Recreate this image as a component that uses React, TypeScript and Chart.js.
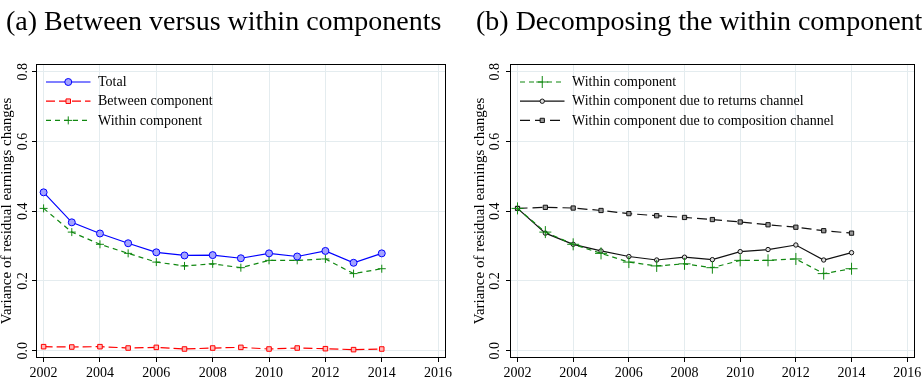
import React, { useEffect, useRef } from "react";
import { Chart, registerables } from "chart.js";
import { drawPoint } from "chart.js/helpers";

Chart.register(...registerables);

const FONT = "'Liberation Serif', 'Times New Roman', Times, serif";

// ---- data ----
const years = [2002, 2003, 2004, 2005, 2006, 2007, 2008, 2009, 2010, 2011, 2012, 2013, 2014];
const totalValues = [0.454, 0.368, 0.336, 0.308, 0.282, 0.273, 0.274, 0.265, 0.279, 0.27, 0.286, 0.252, 0.279];
const betweenValues = [0.0115, 0.0105, 0.0115, 0.0076, 0.0095, 0.0048, 0.0076, 0.0095, 0.0048, 0.0076, 0.0057, 0.003, 0.0048];
const withinValues = [0.408, 0.34, 0.305, 0.279, 0.254, 0.243, 0.249, 0.238, 0.259, 0.259, 0.263, 0.221, 0.235];
const returnsValues = [0.408, 0.337, 0.305, 0.286, 0.27, 0.26, 0.268, 0.261, 0.284, 0.29, 0.303, 0.26, 0.281];
const compositionValues = [0.408, 0.411, 0.409, 0.402, 0.393, 0.387, 0.382, 0.376, 0.369, 0.361, 0.354, 0.344, 0.337];
const xTicks = [2002, 2004, 2006, 2008, 2010, 2012, 2014, 2016];
const yTicks = [0, 0.2, 0.4, 0.6, 0.8];

const titleA = "(a) Between versus within components";
const titleB = "(b) Decomposing the within component";
const yTitle = "Variance of residual earnings changes";
const labelTotal = "Total";
const labelBetween = "Between component";
const labelWithin = "Within component";
const labelReturns = "Within component due to returns channel";
const labelComposition = "Within component due to composition channel";

const GRID = "#e4ecef";

type Series = {
  label: string;
  values: number[];
  color: string;
  fill: string;
  dash: number[];
  pointStyle: string;
  radius: number;
  width: number;
};

type PanelSpec = {
  title: string;
  titleX: number;
  series: Series[];
  axisWidth: number;
  padRight: number;
  yTickPad: number;
  yTitlePad: number;
};

const panelPlugin = {
  id: "panelDecor",
  afterDatasetsDraw(chart: any, _args: any, opts: any) {
    const { ctx, chartArea: a } = chart;
    ctx.save();
    // frame
    ctx.setLineDash([]);
    ctx.strokeStyle = "#000";
    ctx.lineWidth = 1;
    const l = Math.round(a.left) + 0.5;
    const t = Math.round(a.top) + 0.5;
    const r = Math.round(a.right) - 0.5;
    const b = Math.round(a.bottom) - 0.5;
    ctx.strokeRect(l, t, r - l, b - t);

    // legend
    const series: Series[] = opts.series;
    series.forEach((s, i) => {
      const y = a.top + 18 + i * 19.2;
      const x0 = a.left + 10;
      const x1 = a.left + 54.5;
      ctx.save();
      ctx.strokeStyle = s.color;
      ctx.lineWidth = s.width;
      ctx.setLineDash(s.dash);
      ctx.beginPath();
      ctx.moveTo(x0, y);
      ctx.lineTo(x1, y);
      ctx.stroke();
      ctx.setLineDash([]);
      ctx.lineWidth = 1;
      ctx.fillStyle = s.fill;
      ctx.strokeStyle = s.color;
      drawPoint(ctx, { pointStyle: s.pointStyle as any, radius: s.radius, rotation: 0, borderWidth: 1 }, (x0 + x1) / 2, y);
      ctx.restore();
      ctx.fillStyle = "#000";
      ctx.font = `14px ${FONT}`;
      ctx.textBaseline = "middle";
      ctx.textAlign = "left";
      ctx.fillText(s.label, a.left + 62, y + 0.5);
    });

    // panel title
    ctx.fillStyle = "#000";
    ctx.font = `28px ${FONT}`;
    ctx.textBaseline = "alphabetic";
    ctx.textAlign = "left";
    ctx.fillText(opts.title, opts.titleX, 30);
    ctx.restore();
  },
};

function buildConfig(p: PanelSpec): any {
  return {
    type: "line",
    data: {
      datasets: p.series.map((s) => ({
        label: s.label,
        data: years.map((x, i) => ({ x, y: s.values[i] })),
        borderColor: s.color,
        backgroundColor: s.fill,
        borderWidth: s.width,
        borderDash: s.dash,
        pointStyle: s.pointStyle,
        pointRadius: s.radius,
        pointBorderColor: s.color,
        pointBackgroundColor: s.fill,
        pointBorderWidth: 1,
        tension: 0,
        fill: false,
      })),
    },
    options: {
      responsive: false,
      animation: false,
      devicePixelRatio: 1,
      events: [],
      layout: { padding: { top: 64, right: p.padRight, left: 0, bottom: 0 } },
      plugins: {
        legend: { display: false },
        tooltip: { enabled: false },
        title: { display: false },
        panelDecor: { title: p.title, titleX: p.titleX, series: p.series },
      },
      scales: {
        x: {
          type: "linear",
          min: 2001.73,
          max: 2016.28,
          afterBuildTicks: (s: any) => {
            s.ticks = xTicks.map((v) => ({ value: v }));
          },
          afterFit: (s: any) => {
            s.height = 26;
            s.paddingLeft = 0;
            s.paddingRight = 0;
          },
          grid: { color: GRID, tickColor: "#000", tickLength: 4, lineWidth: 1 },
          border: { display: false },
          ticks: {
            font: { family: FONT, size: 14 },
            color: "#000",
            padding: 3,
            maxRotation: 0,
            minRotation: 0,
            autoSkip: false,
            callback: (v: any) => String(v),
          },
        },
        y: {
          type: "linear",
          min: -0.021,
          max: 0.822,
          afterBuildTicks: (s: any) => {
            s.ticks = yTicks.map((v) => ({ value: v }));
          },
          afterFit: (s: any) => {
            s.width = p.axisWidth;
            s.paddingTop = 0;
            s.paddingBottom = 0;
          },
          grid: { color: GRID, tickColor: "#000", tickLength: 4, lineWidth: 1 },
          border: { display: false },
          ticks: {
            font: { family: FONT, size: 14 },
            color: "#000",
            padding: p.yTickPad,
            minRotation: 90,
            maxRotation: 90,
            crossAlign: "center",
            autoSkip: false,
            callback: (v: any) => Number(v).toFixed(1),
          },
          title: {
            display: true,
            text: yTitle,
            color: "#000",
            font: { family: FONT, size: 15, lineHeight: 0.933 },
            padding: { top: p.yTitlePad, bottom: 0 },
          },
        },
      },
    },
    plugins: [panelPlugin],
  };
}

const panelA: PanelSpec = {
  title: titleA,
  titleX: 6,
  axisWidth: 36,
  padRight: 14,
  yTickPad: 0,
  yTitlePad: 0,
  series: [
    { label: labelTotal, values: totalValues, color: "#0000ff", fill: "#a3a3ff", dash: [], pointStyle: "circle", radius: 3.5, width: 1.2 },
    { label: labelBetween, values: betweenValues, color: "#ff0000", fill: "#ffb8b8", dash: [9, 4], pointStyle: "rect", radius: 3.2, width: 1.2 },
    { label: labelWithin, values: withinValues, color: "#118811", fill: "#118811", dash: [5, 4], pointStyle: "cross", radius: 4, width: 1.2 },
  ],
};

const panelB: PanelSpec = {
  title: titleB,
  titleX: 16,
  axisWidth: 50,
  padRight: 2,
  yTickPad: 2,
  yTitlePad: 13,
  series: [
    { label: labelWithin, values: withinValues, color: "#118811", fill: "#118811", dash: [5, 4], pointStyle: "cross", radius: 6, width: 1.2 },
    { label: labelReturns, values: returnsValues, color: "#111111", fill: "#dddddd", dash: [], pointStyle: "circle", radius: 2.2, width: 1.2 },
    { label: labelComposition, values: compositionValues, color: "#111111", fill: "#999999", dash: [10, 5], pointStyle: "rect", radius: 3, width: 1.2 },
  ],
};

function Panel({ spec, left, width }: { spec: PanelSpec; left: number; width: number }) {
  const ref = useRef<HTMLCanvasElement>(null);
  useEffect(() => {
    const chart = new Chart(ref.current as HTMLCanvasElement, buildConfig(spec));
    return () => chart.destroy();
  }, [spec]);
  return (
    <canvas
      ref={ref}
      width={width}
      height={384}
      style={{ position: "absolute", left, top: 0, width, height: 384, display: "block" }}
    />
  );
}

export default function App() {
  return (
    <div style={{ position: "absolute", left: 0, top: 0, width: 922, height: 384, background: "#fff", overflow: "hidden" }}>
      <Panel spec={panelA} left={0} width={460} />
      <Panel spec={panelB} left={460} width={462} />
    </div>
  );
}
